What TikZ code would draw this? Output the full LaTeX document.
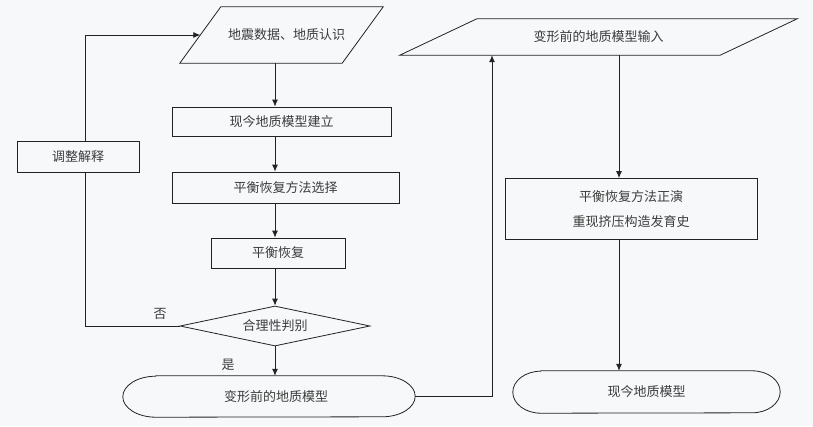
\documentclass[tikz,border=0pt]{standalone}
\usepackage{fontspec}
\newfontfamily\cjk{Noto Sans CJK SC}
\usetikzlibrary{shapes.geometric,arrows.meta,calc}
\definecolor{bg}{RGB}{246,248,249}
\definecolor{ln}{RGB}{35,35,35}
\definecolor{tx}{RGB}{60,60,60}
\tikzset{
  txt/.style={font=\cjk\fontsize{13}{25}\selectfont, text=tx},
  procbox/.style={txt, draw=ln, line width=0.8pt, rectangle, inner sep=0pt},
  decbox/.style={txt, draw=ln, line width=0.8pt, diamond, aspect=4.75, inner sep=0pt},
  plainbox/.style={txt, rectangle, inner sep=0pt},
  arr/.style={draw=ln, line width=0.8pt, -{Latex[length=7pt,width=6pt]}},
  plainln/.style={draw=ln, line width=0.8pt},
}
\begin{document}
\begin{tikzpicture}[x=1pt,y=-1pt]
\fill[bg] (0,0) rectangle (813,426);
\useasboundingbox (0,0) rectangle (813,426);
\coordinate (lc) at (275,0);
\coordinate (fx) at (85,0);
\coordinate (rx) at (492,0);
\coordinate (rc) at (619,0);
% left column
\node[plainbox, minimum width=203pt, minimum height=56pt] (p1) at (281.5,35) {\hspace*{10pt}地震数据、地质认识};
\draw[plainln] ([xshift=41pt]p1.north west) -- (p1.north east)
  -- ([xshift=-41pt]p1.south east) -- (p1.south west) -- cycle;
\coordinate (p1w) at ($(p1.south west)!0.5!([xshift=41pt]p1.north west)$);
\node[procbox, minimum width=219pt, minimum height=29pt] (b1) at (281.5,121.5) {现今地质模型建立};
\node[procbox, minimum width=227pt, minimum height=31pt] (b2) at (285.5,187.5) {平衡恢复方法选择};
\node[procbox, minimum width=134pt, minimum height=30pt] (b3) at (278,253) {平衡恢复};
\node[decbox, minimum width=190pt, minimum height=40pt] (dia) at (275,326) {合理性判别};
\node[plainbox, minimum width=292pt, minimum height=41pt] (m1) at (269,396.5) {\hspace*{14pt}变形前的地质模型};
\draw[plainln] ([xshift=33pt]m1.north west) -- ([xshift=-33pt]m1.north east)
  arc[start angle=90, end angle=-90, x radius=33pt, y radius=20.5pt]
  -- ([xshift=33pt]m1.south west)
  arc[start angle=270, end angle=90, x radius=33pt, y radius=20.5pt] -- cycle;
\node[procbox, minimum width=122pt, minimum height=31pt] (adj) at (78,156.5) {调整解释};
\node[txt] (no) at (160,314) {否};
\node[txt] (yes) at (228,365) {是};
% right column
\node[plainbox, minimum width=397pt, minimum height=36pt] (p2) at (598.5,37) {变形前的地质模型输入};
\draw[plainln] ([xshift=77pt]p2.north west) -- (p2.north east)
  -- ([xshift=-77pt]p2.south east) -- (p2.south west) -- cycle;
\node[procbox, minimum width=252pt, minimum height=61pt, align=center] (r1) at (631,209) {平衡恢复方法正演\\重现挤压构造发育史};
\node[plainbox, minimum width=267pt, minimum height=42pt] (m2) at (646.5,392) {现今地质模型};
\draw[plainln] ([xshift=28pt]m2.north west) -- ([xshift=-28pt]m2.north east)
  arc[start angle=90, end angle=-90, x radius=28pt, y radius=21pt]
  -- ([xshift=28pt]m2.south west)
  arc[start angle=270, end angle=90, x radius=28pt, y radius=21pt] -- cycle;
% connectors
\draw[arr] (p1.south -| lc) -- (b1.north -| lc);
\draw[arr] (b1.south -| lc) -- (b2.north -| lc);
\draw[arr] (b2.south -| lc) -- (b3.north -| lc);
\draw[arr] (b3.south -| lc) -- (dia.north);
\draw[arr] (dia.south) -- (m1.north -| lc);
\draw[plainln] (dia.west) -| (adj.south -| fx);
\draw[arr] (adj.north -| fx) |- (p1w);
\draw[arr] (m1.east) -| (p2.south -| rx);
\draw[arr] (p2.south -| rc) -- (r1.north -| rc);
\draw[arr] (r1.south -| rc) -- (m2.north -| rc);
\end{tikzpicture}
\end{document}
